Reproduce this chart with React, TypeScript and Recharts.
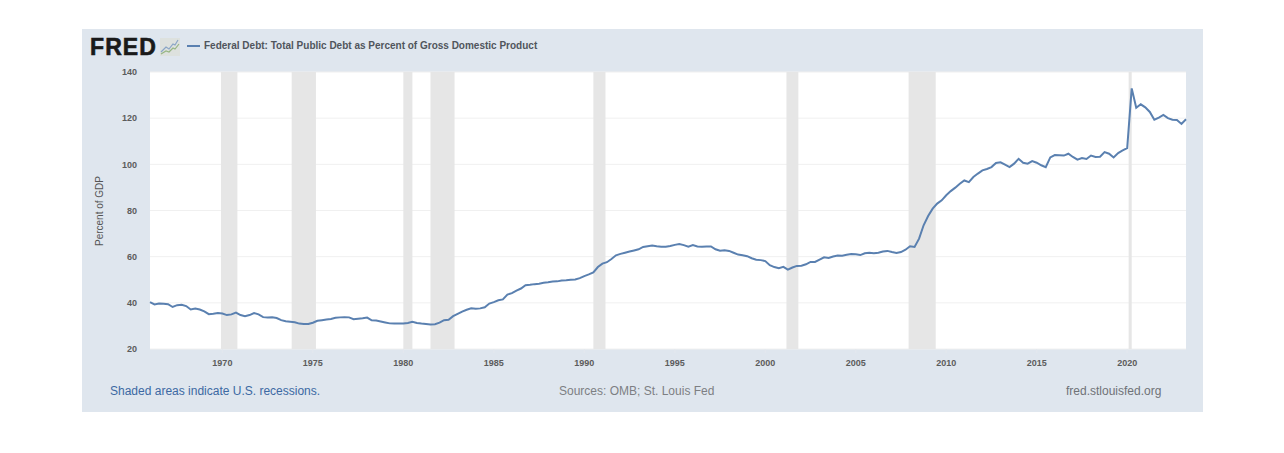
import React from "react";
import { ComposedChart, Line, XAxis, YAxis, CartesianGrid, ReferenceArea } from "recharts";

const START_YEAR = 1966;
const debtValues = [
  40.3, 39.3, 39.7, 39.6, 39.4, 38.2, 39.0, 39.2, 38.6, 37.1, 37.5, 37.1, 36.3, 35.1, 35.3, 35.6,
  35.4, 34.7, 35.0, 35.8, 34.7, 34.2, 34.7, 35.6, 35.0, 33.8, 33.6, 33.7, 33.4, 32.5, 32.0, 31.8,
  31.6, 31.0, 30.8, 30.8, 31.4, 32.2, 32.5, 32.8, 33.0, 33.5, 33.7, 33.8, 33.7, 32.9, 33.1, 33.3,
  33.6, 32.4, 32.3, 31.9, 31.5, 31.1, 31.0, 31.0, 31.0, 31.3, 31.8, 31.3, 31.0, 30.8, 30.6, 30.7,
  31.4, 32.5, 32.7, 34.2, 35.2, 36.2, 37.0, 37.6, 37.4, 37.6, 38.1, 39.7, 40.3, 41.1, 41.5, 43.6,
  44.2, 45.3, 46.2, 47.6, 47.8, 48.1, 48.3, 48.7, 48.9, 49.2, 49.3, 49.7, 49.8, 50.0, 50.1, 50.7,
  51.6, 52.3, 53.2, 55.5, 57.0, 57.6, 59.0, 60.6, 61.2, 61.7, 62.2, 62.7, 63.2, 64.2, 64.5, 64.8,
  64.5, 64.3, 64.3, 64.6, 65.1, 65.5, 65.0, 64.3, 65.0, 64.4, 64.3, 64.4, 64.4, 63.2, 62.6, 62.8,
  62.5, 61.7, 60.9, 60.6, 60.2, 59.3, 58.7, 58.5, 58.1, 56.3, 55.5, 55.0, 55.6, 54.4, 55.3, 56.0,
  56.1, 56.7, 57.7, 57.7, 58.7, 59.7, 59.4, 60.1, 60.5, 60.4, 60.8, 61.1, 61.0, 60.7, 61.5, 61.7,
  61.5, 61.7, 62.2, 62.5, 62.0, 61.6, 62.0, 63.0, 64.5, 64.2, 67.8, 73.6, 77.6, 80.8, 83.0, 84.4,
  86.6, 88.4, 89.9, 91.6, 93.0, 92.3, 94.5, 96.0, 97.4, 98.0, 98.8, 100.6, 100.9, 99.9, 98.8, 100.3,
  102.4, 100.7, 100.3, 101.4, 100.7, 99.6, 98.8, 103.0, 104.0, 103.9, 103.8, 104.6, 103.2, 102.0, 102.7, 102.3,
  103.8, 103.2, 103.3, 105.3, 104.6, 103.0, 104.9, 106.0, 107.0, 132.9, 124.5, 126.0, 124.7, 122.7, 119.3, 120.2,
  121.4, 120.0, 119.3, 119.2, 117.5, 119.5,
];
const xTicks = [1970, 1975, 1980, 1985, 1990, 1995, 2000, 2005, 2010, 2015, 2020];
const yTicks = [20, 40, 60, 80, 100, 120, 140];
const recessionStarts = [1969.92, 1973.83, 1980.0, 1981.5, 1990.5, 2001.17, 2007.92, 2020.08];
const recessionEnds = [1970.83, 1975.17, 1980.5, 1982.83, 1991.17, 2001.83, 2009.42, 2020.25];

const chartData = debtValues.map((value, i) => ({ date: START_YEAR + i / 4, value }));
const FONT = "'Liberation Sans', Arial, sans-serif";
const abs = (s: React.CSSProperties): React.CSSProperties => ({ position: "absolute", fontFamily: FONT, whiteSpace: "nowrap", ...s });

export default function App() {
  return (
    <div style={{ position: "absolute", left: 0, top: 0, width: 1284, height: 453, background: "#fff", overflow: "hidden" }}>
      <div style={abs({ left: 82, top: 29, width: 1121, height: 383, background: "#dfe6ee" })} />
      <div style={abs({ left: 90, top: 35, fontSize: 23, lineHeight: "24px", fontWeight: 700, color: "#1a1a1a", letterSpacing: 1.1, WebkitTextStroke: "0.6px #1a1a1a" })}>FRED</div>
      <svg style={{ position: "absolute", left: 160, top: 38 }} width={20} height={18}>
        <rect width={20} height={18} fill="#dde1de" />
        <path d="M1 14 L6 9 L9 11 L13 6 L15 7 L18 2" fill="none" stroke="#8aa5c6" strokeWidth={1.2} />
        <path d="M1 16 L6 13 L9 14 L13 10 L15 11 L19 6" fill="none" stroke="#97b684" strokeWidth={1.2} />
      </svg>
      <div style={abs({ left: 187, top: 45, width: 13, height: 2, background: "#5a80b0" })} />
      <div style={abs({ left: 204, top: 40, fontSize: 10, lineHeight: "12px", fontWeight: 700, color: "#50555c" })}>
        Federal Debt: Total Public Debt as Percent of Gross Domestic Product
      </div>
      <div style={{ position: "absolute", left: 0, top: 0 }}>
        <ComposedChart width={1284} height={453} data={chartData} margin={{ top: 72, right: 98, bottom: 74, left: 110 }}>
          <CartesianGrid vertical={false} stroke="#f0f0f0" fill="#ffffff" />
          {recessionStarts.map((start, i) => (
            <ReferenceArea key={start} x1={start} x2={recessionEnds[i]} y1={20} y2={140} fill="#e6e6e6" fillOpacity={1} stroke="none" />
          ))}
          <XAxis
            dataKey="date"
            type="number"
            domain={[1966, 2023.25]}
            ticks={xTicks}
            height={30}
            axisLine={false}
            tickLine={{ stroke: "#e4e8ee" }}
            tickSize={4}
            tickMargin={7}
            tick={{ fontSize: 9, fontWeight: 700, fill: "#5c5c5c", fontFamily: FONT }}
            interval={0}
          />
          <YAxis
            type="number"
            domain={[20, 140]}
            ticks={yTicks}
            width={40}
            axisLine={false}
            tickLine={false}
            tickMargin={7}
            tick={{ fontSize: 9, fontWeight: 700, fill: "#5c5c5c", fontFamily: FONT }}
            interval={0}
          />
          <Line
            dataKey="value"
            type="linear"
            stroke="#5a80b0"
            strokeWidth={2}
            dot={false}
            isAnimationActive={false}
          />
        </ComposedChart>
      </div>
      <div style={abs({ left: 99, top: 211, fontSize: 10, color: "#555", transform: "translate(-50%,-50%) rotate(-90deg)" })}>Percent of GDP</div>
      <div style={abs({ left: 110, top: 384, fontSize: 12, lineHeight: "15px", color: "#3c69a3" })}>Shaded areas indicate U.S. recessions.</div>
      <div style={abs({ left: 559, top: 384, fontSize: 12, lineHeight: "15px", color: "#7d7f83" })}>Sources: OMB; St. Louis Fed</div>
      <div style={abs({ left: 1066, top: 384, fontSize: 12, lineHeight: "15px", color: "#6f7277" })}>fred.stlouisfed.org</div>
    </div>
  );
}
